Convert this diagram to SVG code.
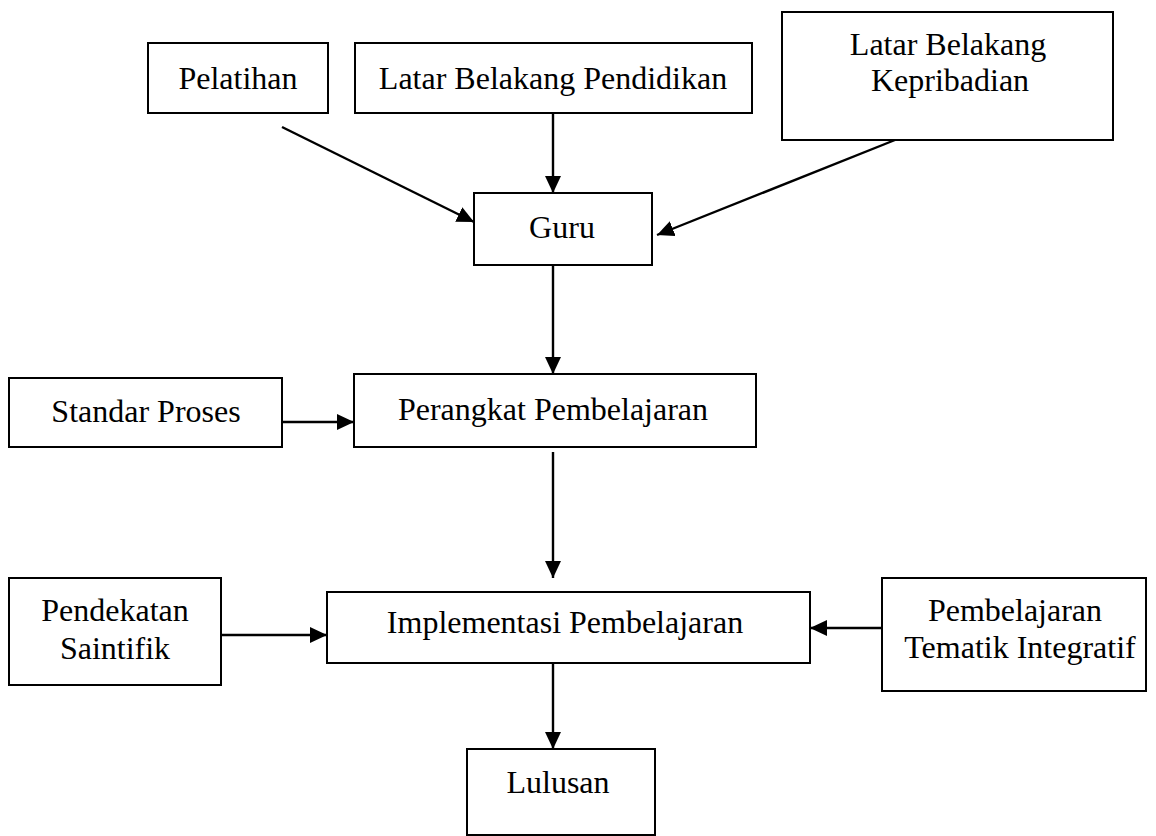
<svg xmlns="http://www.w3.org/2000/svg" width="1156" height="836" viewBox="0 0 1156 836">
<style>
.box{fill:#fff;stroke:#000;stroke-width:2}
.t{font-family:"Liberation Serif","Times New Roman",serif;font-size:32px;fill:#000;text-anchor:middle}
.c{stroke:#000;stroke-width:2.4;fill:none;marker-end:url(#ah)}
</style>
<defs>
<marker id="ah" markerUnits="userSpaceOnUse" markerWidth="18" markerHeight="16" refX="17" refY="8" orient="auto">
<path d="M0,0 L17,8 L0,16 z" fill="#000"/>
</marker>
</defs>
<rect width="1156" height="836" fill="#fff"/>
<g id="connectors">
<line class="c" x1="282" y1="127" x2="474" y2="222"/>
<line class="c" x1="553" y1="113" x2="553" y2="193"/>
<line class="c" x1="895" y1="140" x2="657" y2="235"/>
<line class="c" x1="553" y1="265" x2="553" y2="374"/>
<line class="c" x1="282" y1="422" x2="354" y2="422"/>
<line class="c" x1="553" y1="452" x2="553" y2="578"/>
<line class="c" x1="221" y1="635" x2="327" y2="635"/>
<line class="c" x1="882" y1="628" x2="810" y2="628"/>
<line class="c" x1="553" y1="663" x2="553" y2="749"/>
</g>
<g id="pelatihan"><rect class="box" x="148" y="43" width="180" height="70"/><text class="t" x="238" y="89">Pelatihan</text></g>
<g id="latar-pendidikan"><rect class="box" x="355" y="43" width="397" height="70"/><text class="t" x="553" y="89">Latar Belakang Pendidikan</text></g>
<g id="latar-kepribadian"><rect class="box" x="782" y="12" width="331" height="128"/><text class="t" x="948" y="55">Latar Belakang</text><text class="t" x="950" y="91">Kepribadian</text></g>
<g id="guru"><rect class="box" x="474" y="193" width="178" height="72"/><text class="t" x="562" y="238">Guru</text></g>
<g id="standar-proses"><rect class="box" x="9" y="378" width="273" height="69"/><text class="t" x="146" y="422">Standar Proses</text></g>
<g id="perangkat"><rect class="box" x="354" y="374" width="402" height="73"/><text class="t" x="553" y="420">Perangkat Pembelajaran</text></g>
<g id="pendekatan"><rect class="box" x="9" y="578" width="212" height="107"/><text class="t" x="115" y="621">Pendekatan</text><text class="t" x="115" y="659">Saintifik</text></g>
<g id="implementasi"><rect class="box" x="327" y="592" width="483" height="71"/><text class="t" x="565" y="633">Implementasi Pembelajaran</text></g>
<g id="tematik"><rect class="box" x="882" y="578" width="264" height="113"/><text class="t" x="1015" y="621">Pembelajaran</text><text class="t" x="1020" y="658">Tematik Integratif</text></g>
<g id="lulusan"><rect class="box" x="467" y="749" width="188" height="86"/><text class="t" x="558" y="793">Lulusan</text></g>
</svg>
